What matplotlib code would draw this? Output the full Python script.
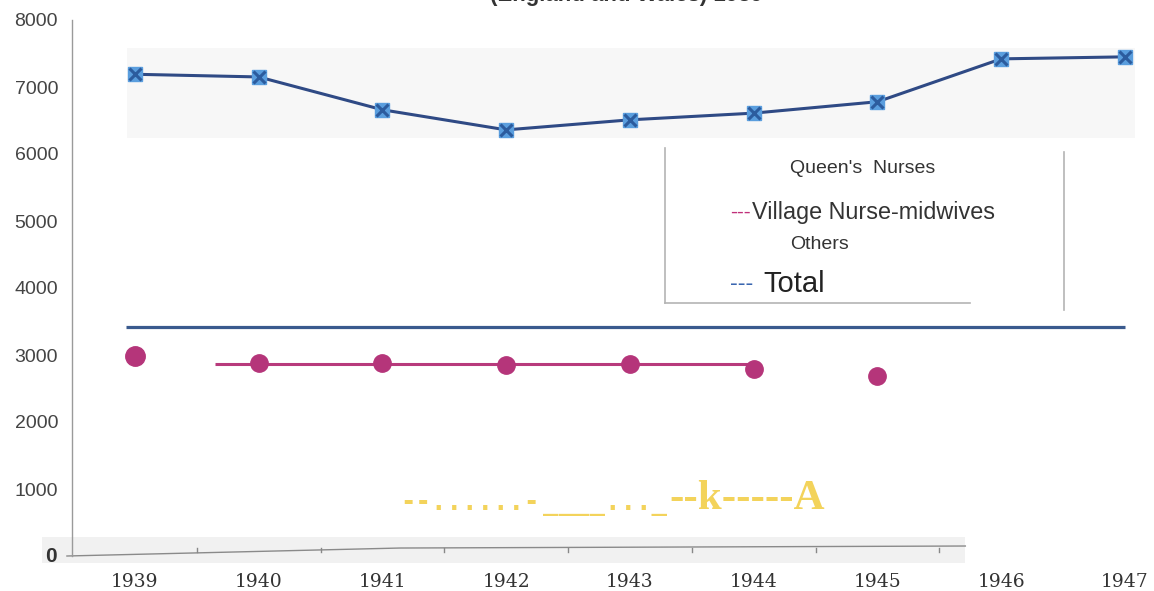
import matplotlib.pyplot as plt
from matplotlib.lines import Line2D
from matplotlib.patches import Rectangle

W, H = 1154, 591

years = [1939, 1940, 1941, 1942, 1943, 1944, 1945, 1946, 1947]
total = [7190, 7150, 6660, 6360, 6510, 6610, 6780, 7420, 7450]

village_years = [1939, 1940, 1941, 1942, 1943, 1944, 1945]
village = [2985, 2880, 2880, 2850, 2866, 2790, 2690]

# flat line pieces as they appear on the scan
queens_x = [1938.93, 1947.0]
queens_y = [3420, 3420]
village_line_x = [1939.65, 1944.0]
village_line_y = [2866, 2866]

# wobbly base line of the pasted-in strip
base_x = [1938.45, 1941.14, 1945.71]
base_y = [0, 119, 149]

yticks = [1000, 2000, 3000, 4000, 5000, 6000, 7000, 8000]


def fx(px):
    return px / W


def fy(py):
    return 1 - py / H


fig = plt.figure(figsize=(W / 100, H / 100), dpi=100)
ax = fig.add_axes([fx(72), fy(556), (1135 - 72) / W, (556 - 20) / H])
ax.set_xlim(1938.491, 1947.081)
ax.set_ylim(0, 8000)

for s in ['top', 'right', 'bottom']:
    ax.spines[s].set_visible(False)
ax.spines['left'].set_color('#9a9a9a')
ax.spines['left'].set_linewidth(1.0)

# light grey strips behind the total line and the base
ax.add_patch(Rectangle((1938.935, 6239), 1947.081 - 1938.935, 7582 - 6239,
                       color='#f7f7f7', zorder=0, lw=0))
ax.add_patch(Rectangle((1938.25, -104), 1945.71 - 1938.25, 388,
                       color='#f1f1f1', zorder=0, lw=0, clip_on=False))

# total
ax.plot(years, total, color='#2f4a85', lw=2.2, zorder=3)
ax.plot(years, total, 's', ms=10.5, mfc='#5a9ede', mec='#5a9ede', zorder=4)
ax.plot(years, total, 'x', ms=8.5, mew=2.2, color='#2c5c9e', zorder=5)

ax.plot(queens_x, queens_y, color='#3a5a8e', lw=2.3, solid_capstyle='butt')

# village nurse-midwives
ax.plot(village_line_x, village_line_y, color='#b83a7c', lw=2.2, solid_capstyle='butt')
ax.plot(village_years[:1], village[:1], 'o', ms=14, color='#b5357a')
ax.plot(village_years[1:], village[1:], 'o', ms=12.5, color='#b5357a')

# base line with its little ticks
ax.plot(base_x, base_y, color='#8a8a8a', lw=1.0, clip_on=False)
for yr in years[:7]:
    ax.plot([yr + 0.5, yr + 0.5], [125, 55], color='#888888', lw=1.0, clip_on=False)

ax.set_yticks(yticks)
ax.set_yticklabels([str(v) for v in yticks], fontsize=14, color='#444444',
                   family='Liberation Sans')
ax.tick_params(axis='y', length=0, pad=10)
ax.text(1938.37, 0, '0', fontsize=15, fontweight='bold', color='#333333',
        ha='right', va='center', family='Liberation Sans', clip_on=False)

ax.set_xticks(years)
ax.set_xticklabels([str(y) for y in years], fontsize=13.5, color='#333333',
                   family='DejaVu Serif')
ax.tick_params(axis='x', length=0, pad=12)

# yellow scribble left over from the scan
yellow = '#f3d35b'
ax.text(1941.14, 680, '--......-', fontsize=18.5, fontweight='bold', color=yellow,
        family='DejaVu Sans Mono', va='baseline', ha='left')
ax.text(1942.30, 680, '____..._', fontsize=18.5, fontweight='bold', color=yellow,
        family='DejaVu Sans Mono', va='baseline', ha='left')
ax.text(1943.32, 695, '--k-----A', fontsize=31, fontweight='bold', color=yellow,
        family='Liberation Serif', va='baseline', ha='left')

# legend area
fig.add_artist(Line2D([fx(665), fx(665)], [fy(148), fy(303)], color='#b4b4b4', lw=1.2))
fig.add_artist(Line2D([fx(665), fx(970)], [fy(303), fy(303)], color='#b4b4b4', lw=1.2))
fig.add_artist(Line2D([fx(1064), fx(1064)], [fy(152), fy(310)], color='#b4b4b4', lw=1.2))

fig.text(fx(790), fy(169), "Queen's  Nurses", fontsize=14, color='#333333',
         family='Liberation Sans', va='center')
fig.text(fx(730), fy(212), '---', fontsize=15, color='#c0307a',
         family='Liberation Sans', va='center')
fig.text(fx(752), fy(212), 'Village Nurse-midwives', fontsize=16.8, color='#333333',
         family='Liberation Sans', va='center')
fig.text(fx(790), fy(245), 'Others', fontsize=14, color='#333333',
         family='Liberation Sans', va='center')
fig.text(fx(730), fy(284), '---', fontsize=17, color='#3a66b0',
         family='Liberation Sans', va='center')
fig.text(fx(763), fy(284), 'Total', fontsize=21, color='#222222',
         family='Liberation Sans', va='center')

# title, cut off by the top of the page
fig.text(fx(490), fy(0.5), '(England and Wales) 1939', fontsize=16, fontweight='bold',
         color='#333333', family='Liberation Sans', va='baseline')

plt.savefig('out.png', dpi=100)
